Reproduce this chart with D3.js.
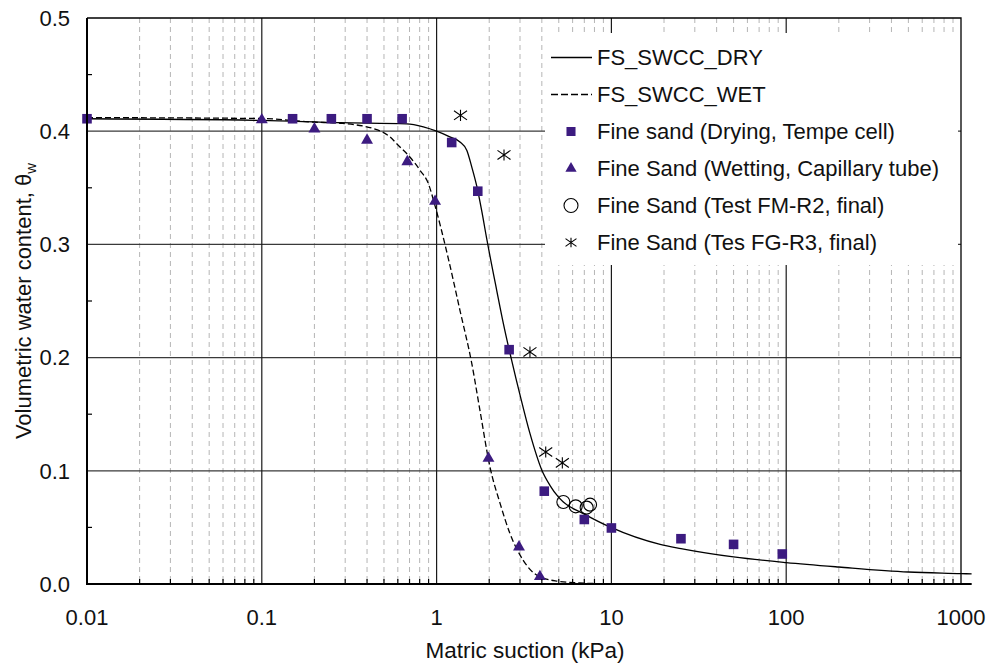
<!DOCTYPE html>
<html>
<head>
<meta charset="utf-8">
<script src="https://cdn.jsdelivr.net/npm/d3@7"></script>
<style>
    body { margin: 0; background: #fff; }
    svg { font-family: "Liberation Sans", Arial, sans-serif; }
</style>
</head>
<body>
<svg id="chart" width="990" height="665"></svg>
<script>
// axis ticks
var xTicks = [0.01, 0.1, 1, 10, 100, 1000];
var xTickLabels = ["0.01", "0.1", "1", "10", "100", "1000"];
var yTicks = [0, 0.1, 0.2, 0.3, 0.4, 0.5];
var yMinorTicks = [0.05, 0.15, 0.25, 0.35, 0.45];
var xAxisEnd = 1150;

// fitted curves
var drySuction = [0.01, 0.1, 0.28, 0.675, 0.84, 1.0, 1.19, 1.36, 1.49, 1.59, 1.70, 1.81, 1.935, 2.21, 2.41, 2.60, 2.85, 3.0, 3.42, 3.99, 4.45, 4.97, 5.31, 6.91, 9.8, 19, 25, 50, 100, 200, 500, 1000, 1150];
var dryTheta = [0.411, 0.4095, 0.4075, 0.4065, 0.4038, 0.400, 0.395, 0.3905, 0.383, 0.3683, 0.351, 0.330, 0.305, 0.259, 0.230, 0.207, 0.181, 0.167, 0.133, 0.101, 0.0872, 0.0769, 0.0724, 0.0622, 0.0504, 0.035, 0.0313, 0.0239, 0.0189, 0.015, 0.0106, 0.0092, 0.0089];

var wetSuction = [0.01, 0.1, 0.2, 0.28, 0.435, 0.541, 0.604, 0.705, 0.804, 0.897, 0.98, 1.167, 1.36, 1.59, 1.77, 2.02, 2.31, 2.63, 3.13, 3.90, 4.97, 6.5, 8.2, 20, 100, 1150];
var wetTheta = [0.412, 0.4112, 0.408, 0.407, 0.4023, 0.395, 0.3875, 0.377, 0.3655, 0.3537, 0.334, 0.2875, 0.2418, 0.1947, 0.1534, 0.1034, 0.071, 0.0445, 0.0209, 0.0062, 0.0024, 0.001, 0.0004, 0.0001, 0, 0];

// measured points
var dryingSuction = [0.01, 0.15, 0.25, 0.4, 0.635, 1.22, 1.72, 2.6, 4.13, 7.0, 10, 25, 50, 95];
var dryingTheta = [0.411, 0.411, 0.411, 0.411, 0.411, 0.39, 0.347, 0.207, 0.082, 0.057, 0.0495, 0.040, 0.035, 0.0265];

var wettingSuction = [0.1, 0.2, 0.4, 0.68, 0.98, 1.98, 2.96, 3.9];
var wettingTheta = [0.41, 0.402, 0.392, 0.373, 0.338, 0.111, 0.0327, 0.0065];

var fmSuction = [5.31, 6.25, 7.22, 7.55];
var fmTheta = [0.0724, 0.0686, 0.0675, 0.0701];

var fgSuction = [1.37, 2.43, 3.42, 4.21, 5.24];
var fgTheta = [0.414, 0.379, 0.205, 0.1166, 0.107];

var legendLabels = ["FS_SWCC_DRY", "FS_SWCC_WET", "Fine sand (Drying, Tempe cell)",
    "Fine Sand (Wetting, Capillary tube)", "Fine Sand (Test FM-R2, final)", "Fine Sand (Tes FG-R3, final)"];

var purple = "#3c1b80";

var svg = d3.select("#chart"),
    margin = {top: 18, right: 29, bottom: 81, left: 87},
    width = +svg.attr("width") - margin.left - margin.right,
    height = +svg.attr("height") - margin.top - margin.bottom,
    g = svg.append("g").attr("transform", "translate(" + margin.left + "," + margin.top + ")");

var x = d3.scaleLog().domain([0.01, 1000]).range([0, width]);
var y = d3.scaleLinear().domain([0, 0.5]).range([height, 0]);

// minor decade positions 2..9
var xMinor = [];
xTicks.slice(0, -1).forEach(function (d) {
    for (var k = 2; k < 10; k++) xMinor.push(d * k);
});

// dashed minor grid
g.append("g").selectAll("line")
    .data(xMinor)
    .enter().append("line")
    .attr("x1", function (d) { return x(d); })
    .attr("x2", function (d) { return x(d); })
    .attr("y1", 0)
    .attr("y2", height)
    .attr("stroke", "#b5b5b5")
    .attr("stroke-width", 1)
    .attr("stroke-dasharray", "5,4");

// major grid
g.append("g").selectAll("line")
    .data(yTicks.slice(1, -1))
    .enter().append("line")
    .attr("x1", 0)
    .attr("x2", width)
    .attr("y1", function (d) { return y(d); })
    .attr("y2", function (d) { return y(d); })
    .attr("stroke", "#3a3a3a")
    .attr("stroke-width", 1.2);

g.append("g").selectAll("line")
    .data(xTicks.slice(1, -1))
    .enter().append("line")
    .attr("x1", function (d) { return x(d); })
    .attr("x2", function (d) { return x(d); })
    .attr("y1", 0)
    .attr("y2", height)
    .attr("stroke", "#1a1a1a")
    .attr("stroke-width", 1.2);

// frame top + right
g.append("path")
    .attr("d", "M0," + y(0.5) + "H" + x(1000) + "V" + y(0))
    .attr("fill", "none")
    .attr("stroke", "#000")
    .attr("stroke-width", 1.3);

// legend background
var legendX = 545, legendY = 33;
svg.append("rect")
    .attr("x", legendX)
    .attr("y", legendY)
    .attr("width", 413)
    .attr("height", 232)
    .attr("fill", "#fff");

// curves
var line = d3.line()
    .curve(d3.curveMonotoneX)
    .x(function (d) { return x(d[0]); })
    .y(function (d) { return y(d[1]); });

g.append("path")
    .datum(d3.zip(drySuction, dryTheta))
    .attr("d", line)
    .attr("fill", "none")
    .attr("stroke", "#000")
    .attr("stroke-width", 1.3);

g.append("path")
    .datum(d3.zip(wetSuction, wetTheta))
    .attr("d", line)
    .attr("fill", "none")
    .attr("stroke", "#000")
    .attr("stroke-width", 1.3)
    .attr("stroke-dasharray", "6,3");

// asterisk symbol: vertical bar + X
var asterisk = {
    draw: function (context, size) {
        var r = Math.sqrt(size) / 2;
        context.moveTo(0, -r * 0.85);
        context.lineTo(0, r * 0.85);
        context.moveTo(-r, -r * 0.7);
        context.lineTo(r, r * 0.7);
        context.moveTo(-r, r * 0.7);
        context.lineTo(r, -r * 0.7);
    }
};

var squareSym = d3.symbol().type(d3.symbolSquare).size(92);
var triSym = d3.symbol().type(d3.symbolTriangle).size(62);
var starSym = d3.symbol().type(asterisk).size(170);

g.append("g").selectAll("path")
    .data(d3.zip(dryingSuction, dryingTheta))
    .enter().append("path")
    .attr("d", squareSym)
    .attr("transform", function (d) { return "translate(" + x(d[0]) + "," + y(d[1]) + ")"; })
    .attr("fill", purple);

g.append("g").selectAll("path")
    .data(d3.zip(wettingSuction, wettingTheta))
    .enter().append("path")
    .attr("d", triSym)
    .attr("transform", function (d) { return "translate(" + x(d[0]) + "," + y(d[1]) + ")"; })
    .attr("fill", purple);

g.append("g").selectAll("circle")
    .data(d3.zip(fmSuction, fmTheta))
    .enter().append("circle")
    .attr("cx", function (d) { return x(d[0]); })
    .attr("cy", function (d) { return y(d[1]); })
    .attr("r", 6.5)
    .attr("fill", "none")
    .attr("stroke", "#000")
    .attr("stroke-width", 1.1);

g.append("g").selectAll("path")
    .data(d3.zip(fgSuction, fgTheta))
    .enter().append("path")
    .attr("d", starSym)
    .attr("transform", function (d) { return "translate(" + x(d[0]) + "," + y(d[1]) + ")"; })
    .attr("fill", "none")
    .attr("stroke", "#000")
    .attr("stroke-width", 1.1);

// axes lines
g.append("line")
    .attr("x1", 0).attr("x2", 0)
    .attr("y1", y(0.5)).attr("y2", y(0) + 1)
    .attr("stroke", "#000").attr("stroke-width", 2);

g.append("line")
    .attr("x1", -1).attr("x2", x(xAxisEnd))
    .attr("y1", y(0)).attr("y2", y(0))
    .attr("stroke", "#000").attr("stroke-width", 2.2);

// inner minor ticks
g.append("g").selectAll("line")
    .data(yMinorTicks)
    .enter().append("line")
    .attr("x1", 0).attr("x2", 5)
    .attr("y1", function (d) { return y(d); })
    .attr("y2", function (d) { return y(d); })
    .attr("stroke", "#000").attr("stroke-width", 1.2);

g.append("g").selectAll("line")
    .data(xMinor)
    .enter().append("line")
    .attr("x1", function (d) { return x(d); })
    .attr("x2", function (d) { return x(d); })
    .attr("y1", y(0)).attr("y2", y(0) - 5)
    .attr("stroke", "#000").attr("stroke-width", 1.2);

// tick labels
g.append("g").selectAll("text")
    .data(yTicks)
    .enter().append("text")
    .attr("x", -17)
    .attr("y", function (d) { return y(d); })
    .attr("dy", "0.35em")
    .attr("text-anchor", "end")
    .attr("font-size", 22)
    .attr("fill", "#111")
    .text(d3.format(".1f"));

g.append("g").selectAll("text")
    .data(xTicks)
    .enter().append("text")
    .attr("x", function (d) { return x(d); })
    .attr("y", height + 41)
    .attr("text-anchor", "middle")
    .attr("font-size", 22)
    .attr("fill", "#111")
    .text(function (d, i) { return xTickLabels[i]; });

// axis titles
g.append("text")
    .attr("x", width / 2 + 1)
    .attr("y", height + 74)
    .attr("text-anchor", "middle")
    .attr("font-size", 22.5)
    .attr("fill", "#111")
    .text("Matric suction (kPa)");

var yTitle = svg.append("text")
    .attr("transform", "translate(31," + (margin.top + height / 2) + ") rotate(-90)")
    .attr("text-anchor", "middle")
    .attr("font-size", 22)
    .attr("fill", "#111");
yTitle.append("tspan").text("Volumetric water content, \u03b8");
yTitle.append("tspan").attr("font-size", 15).attr("dy", 5).text("w");

// legend
var legend = svg.append("g")
    .attr("font-size", 22)
    .selectAll("g")
    .data(legendLabels)
    .enter().append("g")
    .attr("transform", function (d, i) { return "translate(" + (legendX + 26) + "," + (legendY + 24.5 + i * 37) + ")"; });

legend.append("text")
    .attr("x", 26)
    .attr("dy", "0.35em")
    .attr("fill", "#111")
    .text(function (d) { return d; });

legend.filter(function (d, i) { return i < 2; })
    .append("line")
    .attr("x1", -20).attr("x2", 21)
    .attr("stroke", "#000")
    .attr("stroke-width", 1.3)
    .attr("stroke-dasharray", function (d, i) { return i === 1 ? "7,3" : null; });

legend.filter(function (d, i) { return i === 2; })
    .append("path").attr("d", squareSym.size(82)).attr("fill", purple);
legend.filter(function (d, i) { return i === 3; })
    .append("path").attr("d", triSym.size(55)).attr("fill", purple);
legend.filter(function (d, i) { return i === 4; })
    .append("circle").attr("r", 7).attr("fill", "none").attr("stroke", "#000").attr("stroke-width", 1.1);
legend.filter(function (d, i) { return i === 5; })
    .append("path").attr("d", starSym.size(120)).attr("fill", "none").attr("stroke", "#000").attr("stroke-width", 1.1);
</script>
</body>
</html>
